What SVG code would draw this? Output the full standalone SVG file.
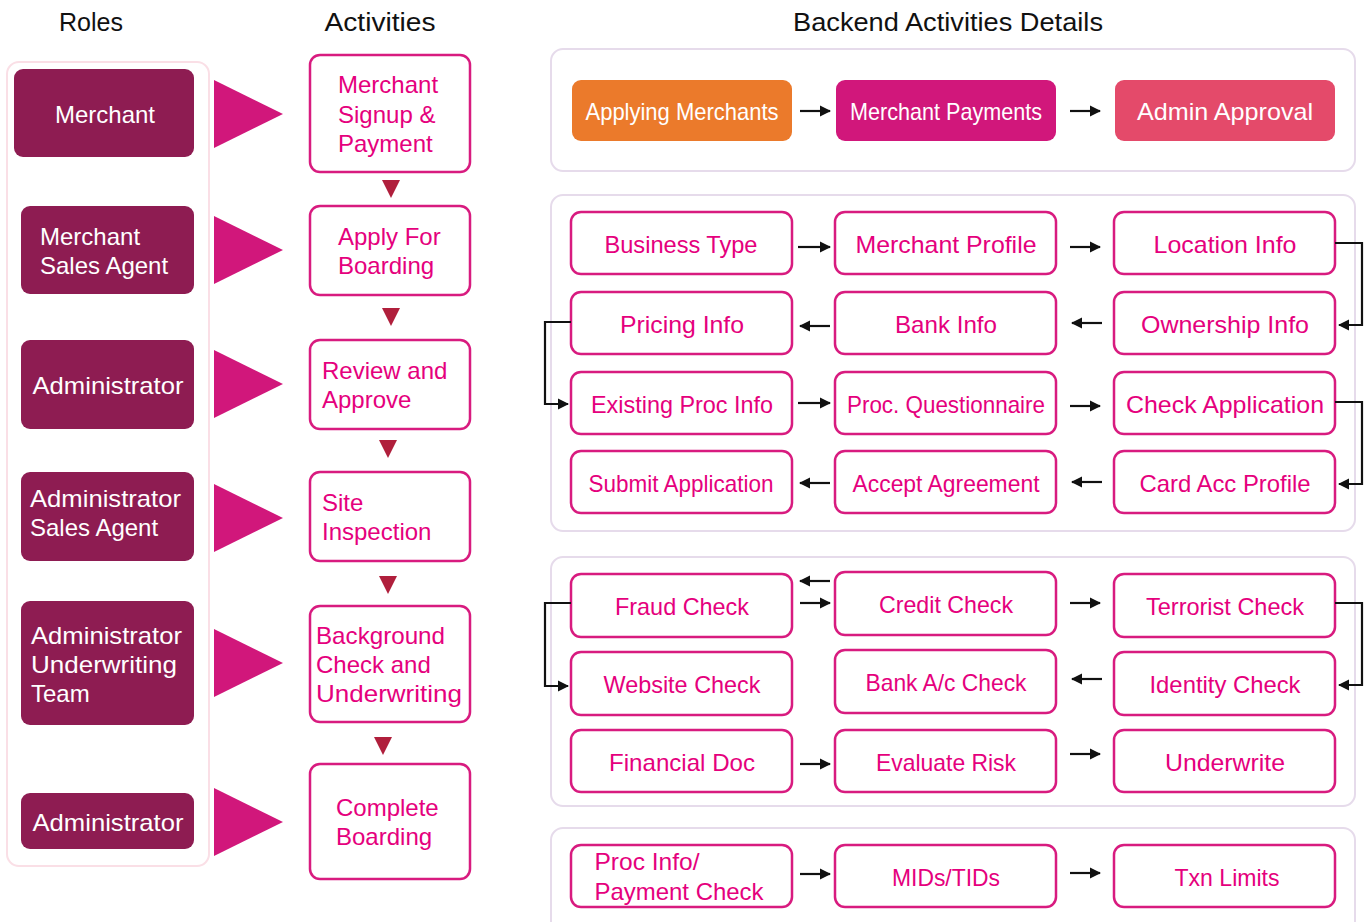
<svg xmlns="http://www.w3.org/2000/svg" width="1370" height="922" viewBox="0 0 1370 922">
<defs>
<style>
.hdr{font-family:"Liberation Sans",Arial,sans-serif;font-size:25px;fill:#111}
.role{fill:#8e1c52}
.rt{font-family:"Liberation Sans",Arial,sans-serif;font-size:24px;fill:#fff}
.tri{fill:#d1177b}
.dtri{fill:#b01f3c}
.act{fill:#fff;stroke:#d81b7f;stroke-width:2.5}
.at{font-family:"Liberation Sans",Arial,sans-serif;font-size:24px;fill:#e5007d}
.bt{font-family:"Liberation Sans",Arial,sans-serif;font-size:24px;fill:#e5007d;text-anchor:middle}
.wt{font-family:"Liberation Sans",Arial,sans-serif;font-size:24px;fill:#fff;text-anchor:middle}
.panel{fill:#fff;stroke:#e6dbeb;stroke-width:2}
.rpanel{fill:none;stroke:#fadfe6;stroke-width:2}
.conn{fill:none;stroke:#111;stroke-width:2.2}
</style>
<marker id="ah" viewBox="0 0 10 10" refX="9" refY="5" markerWidth="5.2" markerHeight="5.2" orient="auto" markerUnits="strokeWidth"><path d="M0,0 L10,5 L0,10 z" fill="#111"/></marker>
</defs>
<rect width="1370" height="922" fill="#fff"/>
<g id="headers">
<text class="hdr" x="91" y="31" text-anchor="middle" textLength="64" lengthAdjust="spacingAndGlyphs">Roles</text>
<text class="hdr" x="380" y="31" text-anchor="middle" textLength="111" lengthAdjust="spacingAndGlyphs">Activities</text>
<text class="hdr" x="948" y="31" text-anchor="middle" textLength="310" lengthAdjust="spacingAndGlyphs">Backend Activities Details</text>
</g>
<rect class="rpanel" x="7" y="62" width="202" height="804" rx="12"/>
<g id="role-merchant"><rect class="role" x="14" y="69" width="180" height="88" rx="9"/><text class="rt" x="105" y="123" text-anchor="middle">Merchant</text></g>
<g id="role-msa"><rect class="role" x="21" y="206" width="173" height="88" rx="9"/><text class="rt" x="40" y="245">Merchant</text><text class="rt" x="40" y="274">Sales Agent</text></g>
<g id="role-admin1"><rect class="role" x="21" y="340" width="173" height="89" rx="9"/><text class="rt" x="108" y="394" text-anchor="middle" textLength="151" lengthAdjust="spacingAndGlyphs">Administrator</text></g>
<g id="role-asa"><rect class="role" x="21" y="472" width="173" height="89" rx="9"/><text class="rt" x="30" y="507" textLength="151" lengthAdjust="spacingAndGlyphs">Administrator</text><text class="rt" x="30" y="536">Sales Agent</text></g>
<g id="role-aut"><rect class="role" x="21" y="601" width="173" height="124" rx="9"/><text class="rt" x="31" y="644" textLength="151" lengthAdjust="spacingAndGlyphs">Administrator</text><text class="rt" x="31" y="673" textLength="146" lengthAdjust="spacingAndGlyphs">Underwriting</text><text class="rt" x="31" y="702">Team</text></g>
<g id="role-admin2"><rect class="role" x="21" y="793" width="173" height="56" rx="9"/><text class="rt" x="108" y="831" text-anchor="middle" textLength="151" lengthAdjust="spacingAndGlyphs">Administrator</text></g>
<g id="role-arrows">
<polygon class="tri" points="214,80 283,114 214,148"/>
<polygon class="tri" points="214,216 283,250 214,284"/>
<polygon class="tri" points="214,350 283,384 214,418"/>
<polygon class="tri" points="214,484 283,518 214,552"/>
<polygon class="tri" points="214,629 283,663 214,697"/>
<polygon class="tri" points="214,788 283,822 214,856"/>
</g>
<g id="act-signup"><rect class="act" x="310" y="55" width="160" height="117" rx="10"/><text class="at" x="338" y="93">Merchant</text><text class="at" x="338" y="123">Signup &amp;</text><text class="at" x="338" y="152">Payment</text></g>
<g id="act-apply"><rect class="act" x="310" y="206" width="160" height="89" rx="10"/><text class="at" x="338" y="245">Apply For</text><text class="at" x="338" y="274">Boarding</text></g>
<g id="act-review"><rect class="act" x="310" y="340" width="160" height="89" rx="10"/><text class="at" x="322" y="379">Review and</text><text class="at" x="322" y="408">Approve</text></g>
<g id="act-site"><rect class="act" x="310" y="472" width="160" height="89" rx="10"/><text class="at" x="322" y="511">Site</text><text class="at" x="322" y="540">Inspection</text></g>
<g id="act-bg"><rect class="act" x="310" y="606" width="160" height="116" rx="10"/><text class="at" x="316" y="644" textLength="129" lengthAdjust="spacingAndGlyphs">Background</text><text class="at" x="316" y="673">Check and</text><text class="at" x="316" y="702" textLength="146" lengthAdjust="spacingAndGlyphs">Underwriting</text></g>
<g id="act-complete"><rect class="act" x="310" y="764" width="160" height="115" rx="10"/><text class="at" x="336" y="816">Complete</text><text class="at" x="336" y="845">Boarding</text></g>
<g id="act-arrows">
<polygon class="dtri" points="382,180 400,180 391,198"/>
<polygon class="dtri" points="382,308 400,308 391,326"/>
<polygon class="dtri" points="379,440 397,440 388,458"/>
<polygon class="dtri" points="379,576 397,576 388,594"/>
<polygon class="dtri" points="374,737 392,737 383,755"/>
</g>
<rect class="panel" x="551" y="49" width="804" height="122" rx="12"/>
<rect class="panel" x="551" y="195" width="804" height="336" rx="12"/>
<rect class="panel" x="551" y="557" width="804" height="249" rx="12"/>
<rect class="panel" x="551" y="828" width="804" height="110" rx="12"/>
<g id="n-applying"><rect x="572" y="80" width="220" height="61" rx="9" fill="#eb7a2b"/><text class="wt" x="682" y="120" textLength="193" lengthAdjust="spacingAndGlyphs">Applying Merchants</text></g>
<g id="n-payments"><rect x="836" y="80" width="220" height="61" rx="9" fill="#d1177b"/><text class="wt" x="946" y="120" textLength="192" lengthAdjust="spacingAndGlyphs">Merchant Payments</text></g>
<g id="n-admin"><rect x="1115" y="80" width="220" height="61" rx="9" fill="#e44a6a"/><text class="wt" x="1225" y="120" textLength="176" lengthAdjust="spacingAndGlyphs">Admin Approval</text></g>
<g id="n-business"><rect class="act" x="571" y="212" width="221" height="62" rx="10"/><text class="bt" x="681" y="253" textLength="153" lengthAdjust="spacingAndGlyphs">Business Type</text></g>
<g id="n-mprofile"><rect class="act" x="835" y="212" width="221" height="62" rx="10"/><text class="bt" x="946" y="253" textLength="181" lengthAdjust="spacingAndGlyphs">Merchant Profile</text></g>
<g id="n-location"><rect class="act" x="1114" y="212" width="221" height="62" rx="10"/><text class="bt" x="1225" y="253" textLength="143" lengthAdjust="spacingAndGlyphs">Location Info</text></g>
<g id="n-pricing"><rect class="act" x="571" y="292" width="221" height="62" rx="10"/><text class="bt" x="682" y="333" textLength="124" lengthAdjust="spacingAndGlyphs">Pricing Info</text></g>
<g id="n-bank"><rect class="act" x="835" y="292" width="221" height="62" rx="10"/><text class="bt" x="946" y="333" textLength="102" lengthAdjust="spacingAndGlyphs">Bank Info</text></g>
<g id="n-ownership"><rect class="act" x="1114" y="292" width="221" height="62" rx="10"/><text class="bt" x="1225" y="333" textLength="168" lengthAdjust="spacingAndGlyphs">Ownership Info</text></g>
<g id="n-existing"><rect class="act" x="571" y="372" width="221" height="62" rx="10"/><text class="bt" x="682" y="413" textLength="182" lengthAdjust="spacingAndGlyphs">Existing Proc Info</text></g>
<g id="n-procq"><rect class="act" x="835" y="372" width="221" height="62" rx="10"/><text class="bt" x="946" y="413" textLength="198" lengthAdjust="spacingAndGlyphs">Proc. Questionnaire</text></g>
<g id="n-checkapp"><rect class="act" x="1114" y="372" width="221" height="62" rx="10"/><text class="bt" x="1225" y="413" textLength="198" lengthAdjust="spacingAndGlyphs">Check Application</text></g>
<g id="n-submit"><rect class="act" x="571" y="451" width="221" height="62" rx="10"/><text class="bt" x="681" y="492" textLength="185" lengthAdjust="spacingAndGlyphs">Submit Application</text></g>
<g id="n-accept"><rect class="act" x="835" y="451" width="221" height="62" rx="10"/><text class="bt" x="946" y="492" textLength="187" lengthAdjust="spacingAndGlyphs">Accept Agreement</text></g>
<g id="n-cardacc"><rect class="act" x="1114" y="451" width="221" height="62" rx="10"/><text class="bt" x="1225" y="492" textLength="171" lengthAdjust="spacingAndGlyphs">Card Acc Profile</text></g>
<g id="n-fraud"><rect class="act" x="571" y="574" width="221" height="63" rx="10"/><text class="bt" x="682" y="615" textLength="134" lengthAdjust="spacingAndGlyphs">Fraud Check</text></g>
<g id="n-credit"><rect class="act" x="835" y="572" width="221" height="63" rx="10"/><text class="bt" x="946" y="613" textLength="134" lengthAdjust="spacingAndGlyphs">Credit Check</text></g>
<g id="n-terrorist"><rect class="act" x="1114" y="574" width="221" height="63" rx="10"/><text class="bt" x="1225" y="615" textLength="158" lengthAdjust="spacingAndGlyphs">Terrorist Check</text></g>
<g id="n-website"><rect class="act" x="571" y="652" width="221" height="63" rx="10"/><text class="bt" x="682" y="693" textLength="157" lengthAdjust="spacingAndGlyphs">Website Check</text></g>
<g id="n-bankac"><rect class="act" x="835" y="650" width="221" height="63" rx="10"/><text class="bt" x="946" y="691" textLength="161" lengthAdjust="spacingAndGlyphs">Bank A/c Check</text></g>
<g id="n-identity"><rect class="act" x="1114" y="652" width="221" height="63" rx="10"/><text class="bt" x="1225" y="693" textLength="151" lengthAdjust="spacingAndGlyphs">Identity Check</text></g>
<g id="n-financial"><rect class="act" x="571" y="730" width="221" height="62" rx="10"/><text class="bt" x="682" y="771" textLength="146" lengthAdjust="spacingAndGlyphs">Financial Doc</text></g>
<g id="n-evaluate"><rect class="act" x="835" y="730" width="221" height="62" rx="10"/><text class="bt" x="946" y="771" textLength="140" lengthAdjust="spacingAndGlyphs">Evaluate Risk</text></g>
<g id="n-underwrite"><rect class="act" x="1114" y="730" width="221" height="62" rx="10"/><text class="bt" x="1225" y="771" textLength="120" lengthAdjust="spacingAndGlyphs">Underwrite</text></g>
<g id="n-procinfo"><rect class="act" x="571" y="845" width="221" height="62" rx="10"/><text class="bt" x="647" y="870" textLength="105" lengthAdjust="spacingAndGlyphs">Proc Info/</text><text class="bt" x="679" y="900" textLength="169" lengthAdjust="spacingAndGlyphs">Payment Check</text></g>
<g id="n-mids"><rect class="act" x="835" y="845" width="221" height="62" rx="10"/><text class="bt" x="946" y="886" textLength="108" lengthAdjust="spacingAndGlyphs">MIDs/TIDs</text></g>
<g id="n-txn"><rect class="act" x="1114" y="845" width="221" height="62" rx="10"/><text class="bt" x="1227" y="886" textLength="105" lengthAdjust="spacingAndGlyphs">Txn Limits</text></g>
<g id="connectors">
<line class="conn" x1="800" y1="111" x2="830" y2="111" marker-end="url(#ah)"/>
<line class="conn" x1="1070" y1="111" x2="1100" y2="111" marker-end="url(#ah)"/>
<line class="conn" x1="798" y1="247" x2="830" y2="247" marker-end="url(#ah)"/>
<line class="conn" x1="1070" y1="247" x2="1100" y2="247" marker-end="url(#ah)"/>
<polyline class="conn" points="1335,243 1362,243 1362,325 1339,325" marker-end="url(#ah)"/>
<line class="conn" x1="1102" y1="323" x2="1072" y2="323" marker-end="url(#ah)"/>
<line class="conn" x1="830" y1="326" x2="800" y2="326" marker-end="url(#ah)"/>
<polyline class="conn" points="571,322 545,322 545,404 568,404" marker-end="url(#ah)"/>
<line class="conn" x1="798" y1="403" x2="830" y2="403" marker-end="url(#ah)"/>
<line class="conn" x1="1070" y1="406" x2="1100" y2="406" marker-end="url(#ah)"/>
<polyline class="conn" points="1335,402 1362,402 1362,484 1339,484" marker-end="url(#ah)"/>
<line class="conn" x1="1102" y1="482" x2="1072" y2="482" marker-end="url(#ah)"/>
<line class="conn" x1="830" y1="483" x2="800" y2="483" marker-end="url(#ah)"/>
<line class="conn" x1="830" y1="581" x2="800" y2="581" marker-end="url(#ah)"/>
<line class="conn" x1="800" y1="603" x2="830" y2="603" marker-end="url(#ah)"/>
<line class="conn" x1="1070" y1="603" x2="1100" y2="603" marker-end="url(#ah)"/>
<polyline class="conn" points="1335,603 1362,603 1362,685 1339,685" marker-end="url(#ah)"/>
<line class="conn" x1="1102" y1="679" x2="1072" y2="679" marker-end="url(#ah)"/>
<polyline class="conn" points="571,603 545,603 545,686 568,686" marker-end="url(#ah)"/>
<line class="conn" x1="800" y1="764" x2="830" y2="764" marker-end="url(#ah)"/>
<line class="conn" x1="1070" y1="754" x2="1100" y2="754" marker-end="url(#ah)"/>
<line class="conn" x1="800" y1="874" x2="830" y2="874" marker-end="url(#ah)"/>
<line class="conn" x1="1070" y1="873" x2="1100" y2="873" marker-end="url(#ah)"/>
</g>
</svg>
